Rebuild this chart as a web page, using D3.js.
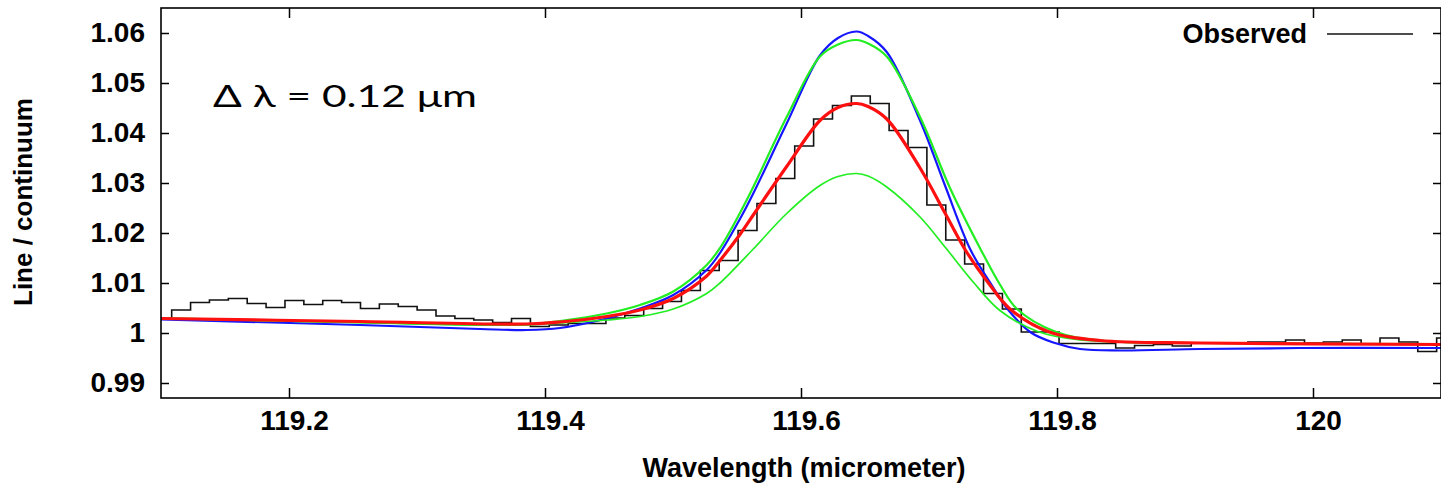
<!DOCTYPE html>
<html>
<head>
<meta charset="utf-8">
<script src="https://cdn.jsdelivr.net/npm/d3@7"></script>
<style>
  body { margin: 0; background: #fff; }
  svg { display: block; }
  .axis text {
    font-family: "Liberation Sans", Arial, sans-serif;
    font-weight: bold;
    font-size: 28px;
    fill: #000;
  }
  .axis line { stroke: #000; stroke-width: 1.5px; }
  .axis-title {
    font-family: "Liberation Sans", Arial, sans-serif;
    font-weight: bold;
    fill: #000;
  }
</style>
</head>
<body>
<div id="chart"></div>
<script>
// tick values
const xTicks = [119.2, 119.4, 119.6, 119.8, 120];
const yTicks = [0.99, 1, 1.01, 1.02, 1.03, 1.04, 1.05, 1.06];

// observed spectrum, one value per wavelength bin
const binStart = 119.0936;
const binWidth = 0.01475;
const observed = [
  1.0030, 1.0046, 1.0061, 1.0066, 1.0069, 1.0059, 1.0051, 1.0065, 1.0057, 1.0065,
  1.0061, 1.0049, 1.0058, 1.0053, 1.0046, 1.0034, 1.0029, 1.0026, 1.0021, 1.0029,
  1.0013, 1.0016, 1.0019, 1.0019, 1.0030, 1.0035, 1.0049, 1.0063, 1.0085, 1.0125,
  1.0145, 1.0205, 1.0259, 1.0309, 1.0374, 1.0428, 1.0455, 1.0474, 1.0459, 1.0405,
  1.0371, 1.0256, 1.0186, 1.0138, 1.0079, 1.0048, 1.0002, 1.0002, 0.9979, 0.9979,
  0.9979, 0.9970, 0.9975, 0.9977, 0.9974, 0.9980, 0.9980, 0.9980, 0.9982, 0.9982,
  0.9986, 0.9980, 0.9982, 0.9986, 0.9978, 0.9990, 0.9982, 0.9963, 0.9990
];

// fitted profiles: [wavelength, line / continuum]
const fitBlue = [
  [119.1, 1.0027], [119.2555, 1.0016], [119.3492, 1.0008], [119.3859, 1.0006],
  [119.4117, 1.0010], [119.4482, 1.0029], [119.4742, 1.0049], [119.5002, 1.0076],
  [119.5263, 1.0126], [119.5367, 1.0160], [119.5523, 1.0228], [119.5627, 1.0279],
  [119.5888, 1.0419], [119.6148, 1.0555], [119.6289, 1.0590], [119.6435, 1.0603],
  [119.6524, 1.0594], [119.6670, 1.0562], [119.6930, 1.0425], [119.7125, 1.0295],
  [119.7325, 1.0166], [119.7487, 1.0097], [119.7607, 1.0050], [119.7796, 1.0001],
  [119.7984, 0.9980], [119.8180, 0.9968], [119.8492, 0.9965], [119.9117, 0.9968],
  [119.9898, 0.9970], [120.1, 0.9970]
];
const fitGreenHigh = [
  [119.1, 1.0030], [119.2555, 1.0021], [119.3859, 1.0017], [119.4117, 1.0024],
  [119.4482, 1.0039], [119.4742, 1.0056], [119.5002, 1.0083], [119.5263, 1.0136],
  [119.5367, 1.0170], [119.5523, 1.0240], [119.5627, 1.0292], [119.5888, 1.0432],
  [119.6148, 1.0553], [119.6289, 1.0577], [119.6435, 1.0586], [119.6524, 1.0579],
  [119.6670, 1.0553], [119.6930, 1.0432], [119.7164, 1.0290], [119.7406, 1.0166],
  [119.7554, 1.0097], [119.7688, 1.0048], [119.7984, 1.0003], [119.8336, 0.9985],
  [119.9117, 0.9980], [120.1, 0.9978]
];
const fitRed = [
  [119.1, 1.0029], [119.2555, 1.0023], [119.3859, 1.0018], [119.4117, 1.0022],
  [119.4482, 1.0033], [119.4742, 1.0046], [119.5002, 1.0069], [119.5263, 1.0114],
  [119.5367, 1.0145], [119.5523, 1.0197], [119.5627, 1.0236], [119.5888, 1.0333],
  [119.6148, 1.0425], [119.6289, 1.0451], [119.6435, 1.0459], [119.6524, 1.0453],
  [119.6670, 1.0428], [119.6930, 1.0330], [119.7125, 1.0240], [119.7284, 1.0166],
  [119.7473, 1.0097], [119.7633, 1.0048], [119.7930, 1.0003], [119.8336, 0.9985],
  [119.9117, 0.9980], [120.1, 0.9977]
];
const fitGreenLow = [
  [119.1, 1.0029], [119.2555, 1.0021], [119.3859, 1.0016], [119.4117, 1.0020],
  [119.4482, 1.0026], [119.4742, 1.0033], [119.5002, 1.0048], [119.5263, 1.0079],
  [119.5367, 1.0100], [119.5627, 1.0168], [119.5888, 1.0239], [119.6148, 1.0295],
  [119.6289, 1.0313], [119.6435, 1.0319], [119.6524, 1.0314], [119.6670, 1.0292],
  [119.6930, 1.0232], [119.7125, 1.0172], [119.7352, 1.0100], [119.7554, 1.0045],
  [119.7849, 1.0003], [119.8180, 0.9986], [119.9117, 0.9980], [120.1, 0.9977]
];

const fits = [
  { name: "blue", values: fitBlue, color: "#1616ff", width: 2.2 },
  { name: "greenHigh", values: fitGreenHigh, color: "#22ee22", width: 2.2 },
  { name: "greenLow", values: fitGreenLow, color: "#22ee22", width: 1.7 },
  { name: "red", values: fitRed, color: "#ff1010", width: 3.2 },
];

class LineProfileVis {
  constructor(_parentElement) {
    this.parentElement = _parentElement;
    this.initVis();
  }

  initVis() {
    let vis = this;

    vis.width = 1441;
    vis.height = 485;
    vis.margin = { top: 8, right: 0, bottom: 87, left: 161 };

    vis.svg = d3
      .select("#" + vis.parentElement)
      .append("svg")
      .attr("width", vis.width)
      .attr("height", vis.height);

    vis.x = d3
      .scaleLinear()
      .domain([119.1, 120.1])
      .range([vis.margin.left, vis.width - vis.margin.right]);

    vis.y = d3
      .scaleLinear()
      .domain([0.987, 1.065])
      .range([vis.height - vis.margin.bottom, vis.margin.top]);

    vis.svg
      .append("clipPath")
      .attr("id", "plot-clip")
      .append("rect")
      .attr("x", vis.margin.left)
      .attr("y", vis.margin.top)
      .attr("width", vis.width - vis.margin.left - vis.margin.right)
      .attr("height", vis.height - vis.margin.top - vis.margin.bottom);

    vis.plot = vis.svg.append("g").attr("clip-path", "url(#plot-clip)");

    vis.wrangleData();
  }

  wrangleData() {
    let vis = this;

    vis.observedPoints = observed.map((v, i) => [
      binStart + (i + 0.5) * binWidth,
      v,
    ]);

    vis.updateVis();
  }

  updateVis() {
    let vis = this;

    const stepLine = d3
      .line()
      .x((d) => vis.x(d[0]))
      .y((d) => vis.y(d[1]))
      .curve(d3.curveStep);

    const smoothLine = d3
      .line()
      .x((d) => vis.x(d[0]))
      .y((d) => vis.y(d[1]))
      .curve(d3.curveCatmullRom.alpha(0.5));

    vis.plot
      .append("path")
      .datum(vis.observedPoints)
      .attr("fill", "none")
      .attr("stroke", "#111")
      .attr("stroke-width", 1.6)
      .attr("d", stepLine);

    vis.plot
      .selectAll(".fit")
      .data(fits)
      .join("path")
      .attr("class", "fit")
      .attr("fill", "none")
      .attr("stroke", (d) => d.color)
      .attr("stroke-width", (d) => d.width)
      .attr("stroke-linejoin", "round")
      .attr("d", (d) => smoothLine(d.values));

    const bottom = vis.height - vis.margin.bottom;
    const right = vis.width - vis.margin.right;

    // axes with inward ticks, mirrored on top and right
    vis.svg
      .append("g")
      .attr("class", "axis")
      .attr("transform", `translate(0,${bottom})`)
      .call(d3.axisBottom(vis.x).tickValues(xTicks).tickSize(-10).tickPadding(12).tickFormat(d3.format("")))
      .call((g) => g.select(".domain").remove())
      .call((g) => g.selectAll("text").attr("dx", 5));

    vis.svg
      .append("g")
      .attr("class", "axis")
      .attr("transform", `translate(0,${vis.margin.top})`)
      .call(d3.axisTop(vis.x).tickValues(xTicks).tickSize(-10).tickFormat(""))
      .call((g) => g.select(".domain").remove());

    vis.svg
      .append("g")
      .attr("class", "axis")
      .attr("transform", `translate(${vis.margin.left},0)`)
      .call(d3.axisLeft(vis.y).tickValues(yTicks).tickSize(-8).tickPadding(16).tickFormat(d3.format("")))
      .call((g) => g.select(".domain").remove());

    vis.svg
      .append("g")
      .attr("class", "axis")
      .attr("transform", `translate(${right},0)`)
      .call(d3.axisRight(vis.y).tickValues(yTicks).tickSize(-8).tickFormat(""))
      .call((g) => g.select(".domain").remove());

    vis.svg
      .append("rect")
      .attr("x", vis.margin.left)
      .attr("y", vis.margin.top)
      .attr("width", right - vis.margin.left)
      .attr("height", bottom - vis.margin.top)
      .attr("fill", "none")
      .attr("stroke", "#000")
      .attr("stroke-width", 1.6);

    // axis titles
    vis.svg
      .append("text")
      .attr("class", "axis-title")
      .attr("x", 804)
      .attr("y", 477)
      .attr("text-anchor", "middle")
      .attr("font-size", 27)
      .text("Wavelength (micrometer)");

    vis.svg
      .append("text")
      .attr("class", "axis-title")
      .attr("transform", "translate(32,202) rotate(-90)")
      .attr("text-anchor", "middle")
      .attr("font-size", 26)
      .text("Line / continuum");

    // legend
    vis.svg
      .append("text")
      .attr("class", "axis-title")
      .attr("x", 1307)
      .attr("y", 43)
      .attr("text-anchor", "end")
      .attr("font-size", 27)
      .text("Observed");

    vis.svg
      .append("line")
      .attr("x1", 1327)
      .attr("x2", 1413)
      .attr("y1", 34)
      .attr("y2", 34)
      .attr("stroke", "#111")
      .attr("stroke-width", 1.6);

    // annotation
    vis.svg
      .append("text")
      .attr("x", 213)
      .attr("y", 107)
      .attr("font-family", "Lato, 'Open Sans', sans-serif")
      .attr("font-size", 31)
      .attr("fill", "#000")
      .attr("textLength", 264)
      .attr("lengthAdjust", "spacingAndGlyphs")
      .text("Δ λ = 0.12 μm");
  }
}

new LineProfileVis("chart");
</script>
</body>
</html>
